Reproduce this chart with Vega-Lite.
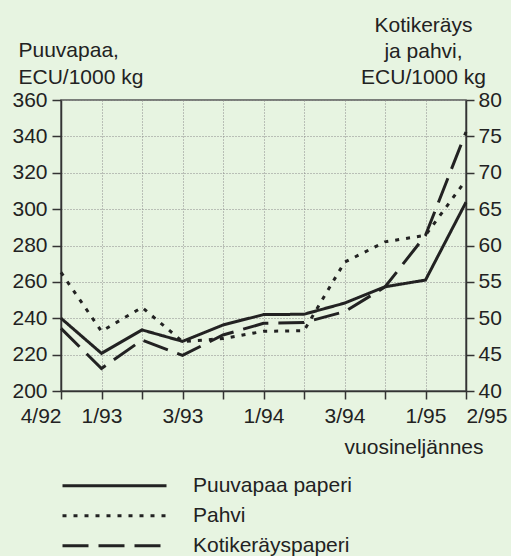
{
  "$schema": "https://vega.github.io/schema/vega-lite/v6.json",
  "width": 405,
  "height": 291,
  "autosize": {"type": "none"},
  "padding": {"left": 61, "top": 100, "right": 45, "bottom": 165},
  "background": "#e7f4e1",
  "config": {
    "font": "Liberation Sans",
    "view": {"stroke": "#555", "strokeWidth": 1.5},
    "axis": {
      "labelFont": "Liberation Sans",
      "titleFont": "Liberation Sans",
      "labelFontSize": 21,
      "titleFontSize": 21,
      "titleFontWeight": "normal",
      "labelColor": "#222",
      "titleColor": "#222",
      "domainColor": "#333",
      "domainWidth": 1.5,
      "tickColor": "#333",
      "tickWidth": 1.5,
      "gridColor": "#8a8a8a",
      "gridDash": [1, 2],
      "gridWidth": 1
    },
    "legend": {
      "labelFont": "Liberation Sans",
      "labelFontSize": 21,
      "labelColor": "#222"
    }
  },
  "data": {
    "values": [
      {"neljannes": "4/92", "sarja": "Puuvapaa paperi", "arvo": 240},
      {"neljannes": "1/93", "sarja": "Puuvapaa paperi", "arvo": 220.7},
      {"neljannes": "2/93", "sarja": "Puuvapaa paperi", "arvo": 233.6},
      {"neljannes": "3/93", "sarja": "Puuvapaa paperi", "arvo": 227.3},
      {"neljannes": "4/93", "sarja": "Puuvapaa paperi", "arvo": 236.3},
      {"neljannes": "1/94", "sarja": "Puuvapaa paperi", "arvo": 242},
      {"neljannes": "2/94", "sarja": "Puuvapaa paperi", "arvo": 242.2},
      {"neljannes": "3/94", "sarja": "Puuvapaa paperi", "arvo": 248.3},
      {"neljannes": "4/94", "sarja": "Puuvapaa paperi", "arvo": 257.3},
      {"neljannes": "1/95", "sarja": "Puuvapaa paperi", "arvo": 261},
      {"neljannes": "2/95", "sarja": "Puuvapaa paperi", "arvo": 303.8},
      {"neljannes": "4/92", "sarja": "Pahvi", "arvo": 56.3},
      {"neljannes": "1/93", "sarja": "Pahvi", "arvo": 48.2},
      {"neljannes": "2/93", "sarja": "Pahvi", "arvo": 51.5},
      {"neljannes": "3/93", "sarja": "Pahvi", "arvo": 46.8},
      {"neljannes": "4/93", "sarja": "Pahvi", "arvo": 47.2},
      {"neljannes": "1/94", "sarja": "Pahvi", "arvo": 48.2},
      {"neljannes": "2/94", "sarja": "Pahvi", "arvo": 48.3},
      {"neljannes": "3/94", "sarja": "Pahvi", "arvo": 57.7},
      {"neljannes": "4/94", "sarja": "Pahvi", "arvo": 60.5},
      {"neljannes": "1/95", "sarja": "Pahvi", "arvo": 61.4},
      {"neljannes": "2/95", "sarja": "Pahvi", "arvo": 69.0},
      {"neljannes": "4/92", "sarja": "Kotikeräyspaperi", "arvo": 48.6},
      {"neljannes": "1/93", "sarja": "Kotikeräyspaperi", "arvo": 43.1},
      {"neljannes": "2/93", "sarja": "Kotikeräyspaperi", "arvo": 47.0},
      {"neljannes": "3/93", "sarja": "Kotikeräyspaperi", "arvo": 44.9},
      {"neljannes": "4/93", "sarja": "Kotikeräyspaperi", "arvo": 47.7},
      {"neljannes": "1/94", "sarja": "Kotikeräyspaperi", "arvo": 49.3},
      {"neljannes": "2/94", "sarja": "Kotikeräyspaperi", "arvo": 49.4},
      {"neljannes": "3/94", "sarja": "Kotikeräyspaperi", "arvo": 50.9},
      {"neljannes": "4/94", "sarja": "Kotikeräyspaperi", "arvo": 54.3},
      {"neljannes": "1/95", "sarja": "Kotikeräyspaperi", "arvo": 61.4},
      {"neljannes": "2/95", "sarja": "Kotikeräyspaperi", "arvo": 75.6}
    ]
  },
  "encoding": {
    "x": {
      "field": "neljannes",
      "type": "ordinal",
      "scale": {
        "type": "point",
        "padding": 0,
        "domain": ["4/92", "1/93", "2/93", "3/93", "4/93", "1/94", "2/94", "3/94", "4/94", "1/95", "2/95"]
      },
      "axis": {
        "title": "vuosineljännes",
        "titleX": 422,
        "titleY": 62,
        "titleAlign": "right",
        "titleBaseline": "alphabetic",
        "labelAngle": 0,
        "labelExpr": "indexof(['2/93','4/93','2/94','4/94'], datum.label) >= 0 ? '' : datum.label",
        "labelAlign": {"expr": "datum.label == '4/92' ? 'right' : datum.label == '2/95' ? 'left' : 'center'"},
        "labelBaseline": "alphabetic",
        "tickSize": 8,
        "labelPadding": 23,
        "grid": true
      }
    },
    "strokeDash": {
      "field": "sarja",
      "type": "nominal",
      "scale": {
        "domain": ["Puuvapaa paperi", "Pahvi", "Kotikeräyspaperi"],
        "range": [[1, 0], [4, 7], [26, 10]]
      },
      "legend": {
        "orient": "none",
        "legendX": 0,
        "legendY": 371,
        "padding": 0,
        "title": null,
        "symbolType": "stroke",
        "symbolSize": 10816,
        "symbolStrokeWidth": 3,
        "symbolStrokeColor": "#222",
        "clipHeight": 29.5,
        "rowPadding": 0,
        "labelOffset": 25
      }
    }
  },
  "layer": [
    {
      "transform": [{"filter": "datum.sarja == 'Puuvapaa paperi'"}],
      "mark": {"type": "line", "color": "#222", "strokeWidth": 3},
      "encoding": {
        "y": {
          "field": "arvo",
          "type": "quantitative",
          "scale": {"domain": [200, 360], "nice": false, "zero": false},
          "axis": {
            "orient": "left",
            "values": [200, 220, 240, 260, 280, 300, 320, 340, 360],
            "title": ["Puuvapaa,", "ECU/1000 kg"],
            "titleAngle": 0,
            "titleAlign": "left",
            "titleBaseline": "alphabetic",
            "titleX": -43,
            "titleY": -44,
            "titleLineHeight": 27,
            "tickSize": 9,
            "labelPadding": 5,
            "grid": true
          }
        }
      }
    },
    {
      "transform": [{"filter": "datum.sarja != 'Puuvapaa paperi'"}],
      "mark": {"type": "line", "color": "#222", "strokeWidth": 3},
      "encoding": {
        "y": {
          "field": "arvo",
          "type": "quantitative",
          "scale": {"domain": [40, 80], "nice": false, "zero": false},
          "axis": {
            "orient": "right",
            "values": [40, 45, 50, 55, 60, 65, 70, 75, 80],
            "title": ["Kotikeräys", "ja pahvi,", "ECU/1000 kg"],
            "titleAngle": 0,
            "titleAlign": "center",
            "titleBaseline": "alphabetic",
            "titleX": -43,
            "titleY": -69,
            "titleLineHeight": 26,
            "tickSize": 8,
            "labelPadding": 4,
            "grid": false
          }
        }
      }
    }
  ],
  "resolve": {"scale": {"y": "independent"}}
}
